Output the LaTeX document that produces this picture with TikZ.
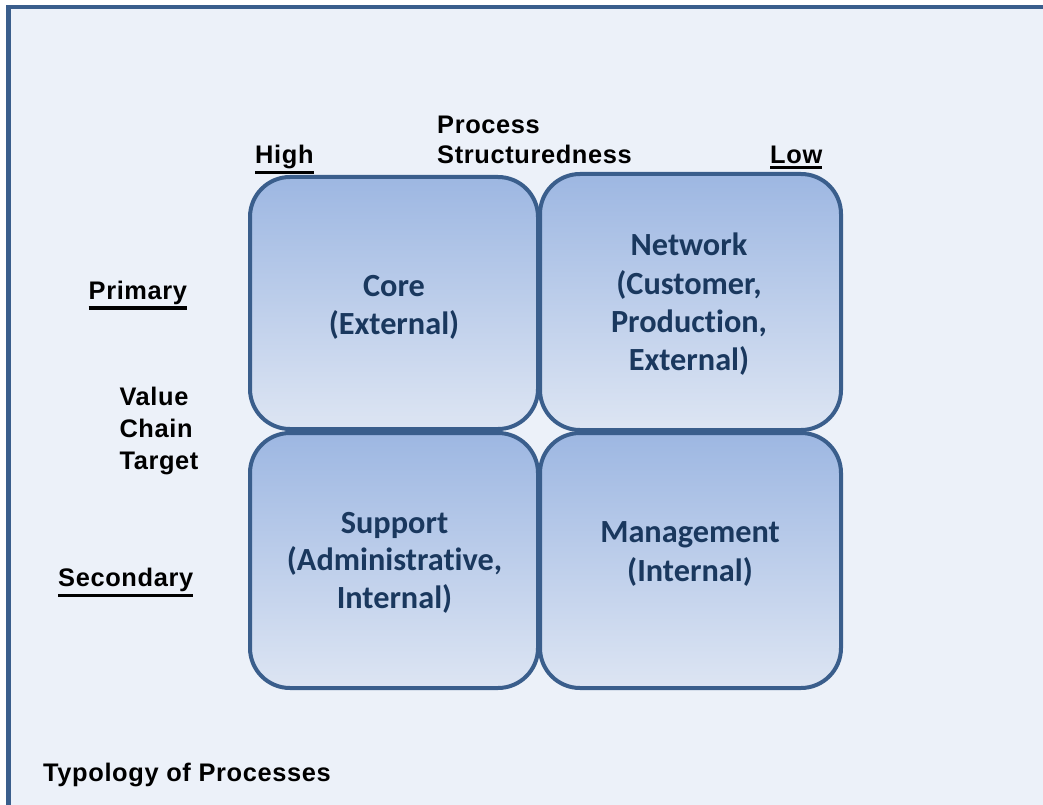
\documentclass[tikz,border=0pt]{standalone}
\usepackage{fontspec}
\setmainfont{Liberation Sans}
\newfontfamily\labfont[LetterSpace=2.5]{Liberation Sans}
\newfontfamily\boxfont[Ligatures=NoCommon]{Carlito}
\definecolor{framecol}{HTML}{3A5E8C}
\definecolor{bgcol}{HTML}{ECF1F9}
\definecolor{boxtop}{HTML}{9DB7E2}
\definecolor{boxbot}{HTML}{DDE5F3}
\definecolor{boxtext}{HTML}{1A385E}
\newcommand\myul[1]{\vtop{\hbox{#1}\kern1.8bp\hrule height 3.2bp}}
\newcommand\stackc[2]{\vtop{\baselineskip=#1\relax\halign{\hfil##\hfil\cr#2\crcr}}}
\newcommand\stackl[2]{\vtop{\baselineskip=#1\relax\halign{##\hfil\cr#2\crcr}}}
\tikzset{
  lab/.style={inner sep=0pt, anchor=base west, font=\labfont\bfseries\fontsize{25.4bp}{30bp}\selectfont, text=black},
  quad/.style={draw=framecol, line width=4bp, rounded corners=40bp, top color=boxtop, bottom color=boxbot, inner sep=0pt},
  qtext/.style={inner sep=0pt, anchor=base, font=\boxfont\bfseries\fontsize{32.3bp}{38bp}\selectfont, text=boxtext}
}
\begin{document}
\begin{tikzpicture}[x=1bp,y=-1bp]
\useasboundingbox (0,0) rectangle (1043,805);
\clip (0,0) rectangle (1043,805);
\fill[white] (0,0) rectangle (1043,805);
\draw[framecol, line width=4.5bp, fill=bgcol] (8.7,7) rectangle (1080,840);

% quadrants
\node[quad, minimum width=288bp, minimum height=252bp] (core) at (394,303) {};
\node[quad, minimum width=301bp, minimum height=256bp] (network) at (690.5,302) {};
\node[quad, minimum width=288bp, minimum height=255bp] (support) at (394,560.5) {};
\node[quad, minimum width=301bp, minimum height=255bp] (mgmt) at (690.5,560.5) {};

\node[qtext] (coretxt) at (394,296) {\stackc{38bp}{Core\cr (External)}};
\node[qtext] (nettxt) at (689,255.7) {\stackc{38.3bp}{Network\cr (Customer,\cr Production,\cr External)}};
\node[qtext] (suptxt) at (394.5,533.3) {\stackc{37.5bp}{Support\cr (Administrative,\cr Internal)}};
\node[qtext] (mgmttxt) at (690,542.5) {\stackc{39bp}{Management\cr (Internal)}};

% axis labels
\node[lab] (high) at (255,163.5) {\myul{High}};
\node[lab] (low) at (770,163.5) {\myul{Low}};
\node[lab] (process) at (437,133.3) {\stackl{30bp}{Process\cr Structuredness}};
\node[lab] (primary) at (88.5,299.3) {\myul{Primary}};
\node[lab] (vct) at (119.3,405.7) {\stackl{31.8bp}{Value\cr Chain\cr Target}};
\node[lab] (secondary) at (58,586.5) {\myul{Secondary}};
\node[lab] (title) at (43,781.7) {Typology of Processes};
\end{tikzpicture}
\end{document}
